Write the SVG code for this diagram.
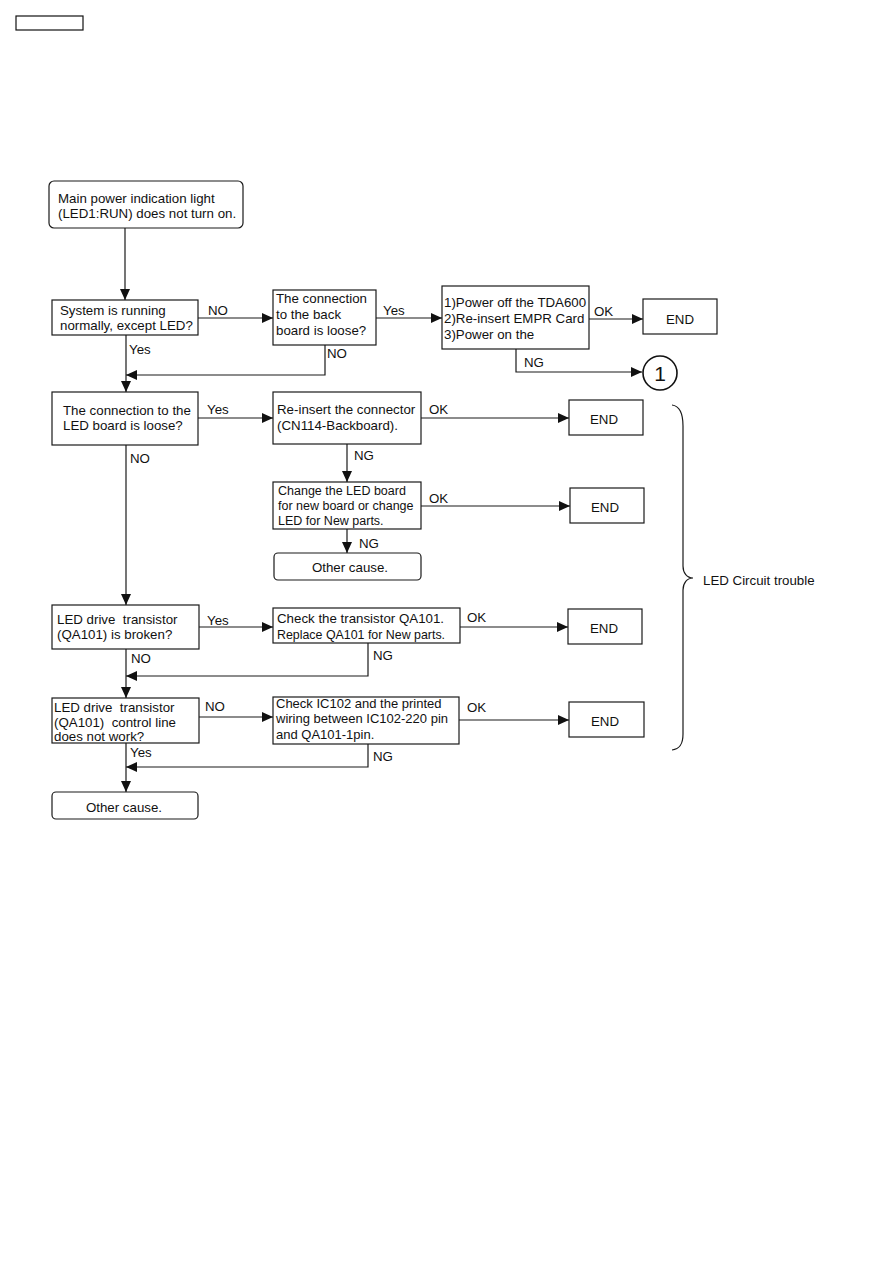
<svg xmlns="http://www.w3.org/2000/svg" width="893" height="1263" viewBox="0 0 893 1263">
<style>
rect.b{fill:#fff;stroke:#1a1a1a;stroke-width:1.2}
.c{fill:none;stroke:#1a1a1a;stroke-width:1.2}
text{font-family:"Liberation Sans",Arial,sans-serif;font-size:13.3px;fill:#111}
.m{text-anchor:middle}
.s{font-size:12.5px}
.pre{white-space:pre}
</style>
<defs>
<marker id="ah" markerUnits="userSpaceOnUse" markerWidth="12" markerHeight="12" refX="11" refY="5" orient="auto"><path d="M0,0 L11,5 L0,10 z" fill="#111"/></marker>
</defs>
<rect width="893" height="1263" fill="#fff"/>
<rect x="16" y="16" width="67" height="14" fill="none" stroke="#111" stroke-width="1.2"/>

<g id="connectors">
<path class="c" d="M125,228 V300" marker-end="url(#ah)"/>
<path class="c" d="M198,318 H273" marker-end="url(#ah)"/>
<path class="c" d="M376,318 H442" marker-end="url(#ah)"/>
<path class="c" d="M589,319 H643" marker-end="url(#ah)"/>
<path class="c" d="M516,349 V372 H642" marker-end="url(#ah)"/>
<path class="c" d="M325,345 V375 H126" marker-end="url(#ah)"/>
<path class="c" d="M126,335 V392" marker-end="url(#ah)"/>
<path class="c" d="M198,418 H273" marker-end="url(#ah)"/>
<path class="c" d="M421,418 H569" marker-end="url(#ah)"/>
<path class="c" d="M347,444 V482" marker-end="url(#ah)"/>
<path class="c" d="M421,506 H570" marker-end="url(#ah)"/>
<path class="c" d="M347,529 V553" marker-end="url(#ah)"/>
<path class="c" d="M126,445 V605" marker-end="url(#ah)"/>
<path class="c" d="M199,627 H273" marker-end="url(#ah)"/>
<path class="c" d="M460,627 H568" marker-end="url(#ah)"/>
<path class="c" d="M368,643 V676 H126" marker-end="url(#ah)"/>
<path class="c" d="M126,649 V698" marker-end="url(#ah)"/>
<path class="c" d="M199,717 H273" marker-end="url(#ah)"/>
<path class="c" d="M459,720 H569" marker-end="url(#ah)"/>
<path class="c" d="M368,744 V767 H126" marker-end="url(#ah)"/>
<path class="c" d="M126,743 V792" marker-end="url(#ah)"/>
<text x="208" y="315">NO</text>
<text x="383" y="315">Yes</text>
<text x="594" y="316">OK</text>
<text x="524" y="367">NG</text>
<text x="327" y="358">NO</text>
<text x="129" y="354">Yes</text>
<text x="207" y="414">Yes</text>
<text x="429" y="414">OK</text>
<text x="354" y="460">NG</text>
<text x="429" y="503">OK</text>
<text x="359" y="548">NG</text>
<text x="130" y="463">NO</text>
<text x="207" y="625">Yes</text>
<text x="467" y="622">OK</text>
<text x="373" y="660">NG</text>
<text x="131" y="663">NO</text>
<text x="205" y="711">NO</text>
<text x="467" y="712">OK</text>
<text x="373" y="761">NG</text>
<text x="130" y="757">Yes</text>
</g>

<g id="start">
<rect class="b" x="49" y="181" width="194" height="47" rx="5"/>
<text x="58" y="203">Main power indication light</text>
<text x="58" y="218">(LED1:RUN) does not turn on.</text>
</g>
<g id="system">
<rect class="b" x="52" y="300" width="146" height="35"/>
<text x="60" y="315">System is running</text>
<text x="60" y="330">normally, except LED?</text>
</g>
<g id="backboard">
<rect class="b" x="273" y="290" width="103" height="55"/>
<text x="276" y="303">The connection</text>
<text x="276" y="319">to the back</text>
<text x="276" y="335">board is loose?</text>
</g>
<g id="power">
<rect class="b" x="442" y="286" width="147" height="63"/>
<text x="444" y="307">1)Power off the TDA600</text>
<text x="444" y="323">2)Re-insert EMPR Card</text>
<text x="444" y="339">3)Power on the</text>
</g>
<g id="end1">
<rect class="b" x="643" y="299" width="74" height="35"/>
<text class="m" x="680" y="324">END</text>
</g>
<g id="circle1">
<circle cx="660" cy="373" r="17" fill="#fff" stroke="#111" stroke-width="1.6"/>
<text class="m" x="660" y="381" style="font-size:21px">1</text>
</g>
<g id="ledboard">
<rect class="b" x="52" y="392" width="146" height="53"/>
<text x="63" y="415">The connection to the</text>
<text x="63" y="430">LED board is loose?</text>
</g>
<g id="reinsert">
<rect class="b" x="273" y="392" width="148" height="52"/>
<text x="277" y="414">Re-insert the connector</text>
<text x="277" y="430">(CN114-Backboard).</text>
</g>
<g id="end2">
<rect class="b" x="569" y="400" width="74" height="35"/>
<text class="m" x="604" y="424">END</text>
</g>
<g id="change">
<rect class="b" x="273" y="482" width="148" height="47"/>
<text class="s" x="278" y="495">Change the LED board</text>
<text class="s" x="278" y="510">for new board or change</text>
<text class="s" x="278" y="525">LED for New parts.</text>
</g>
<g id="end3">
<rect class="b" x="570" y="488" width="74" height="35"/>
<text class="m" x="605" y="512">END</text>
</g>
<g id="other1">
<rect class="b" x="274" y="553" width="147" height="27" rx="4"/>
<text class="m" x="350" y="572">Other cause.</text>
</g>
<g id="ledtr">
<rect class="b" x="52" y="605" width="147" height="44"/>
<text class="pre" x="57" y="624" xml:space="preserve">LED drive  transistor</text>
<text x="57" y="639">(QA101) is broken?</text>
</g>
<g id="checktr">
<rect class="b" x="273" y="608" width="187" height="35"/>
<text x="277" y="623">Check the transistor QA101.</text>
<text x="277" y="639" style="font-size:12.4px">Replace QA101 for New parts.</text>
</g>
<g id="end4">
<rect class="b" x="568" y="609" width="74" height="35"/>
<text class="m" x="604" y="633">END</text>
</g>
<g id="ledctl">
<rect class="b" x="52" y="698" width="147" height="45"/>
<text class="pre" x="54" y="712" xml:space="preserve">LED drive  transistor</text>
<text class="pre" x="54" y="727" xml:space="preserve">(QA101)  control line</text>
<text x="54" y="741">does not work?</text>
</g>
<g id="checkic">
<rect class="b" x="273" y="697" width="186" height="47"/>
<text x="276" y="708" style="font-size:13px">Check IC102 and the printed</text>
<text x="276" y="723" style="font-size:13px">wiring between IC102-220 pin</text>
<text x="276" y="739" style="font-size:13px">and QA101-1pin.</text>
</g>
<g id="end5">
<rect class="b" x="569" y="702" width="75" height="35"/>
<text class="m" x="605" y="726">END</text>
</g>
<g id="other2">
<rect class="b" x="52" y="792" width="146" height="27" rx="4"/>
<text class="m" x="124" y="812">Other cause.</text>
</g>
<g id="brace">
<path class="c" d="M672,405 C680,406 683,413 683,426 V566 C683,573 687,578 693,578 C687,578 683,583 683,590 V734 C683,744 680,749 672,750"/>
<text x="703" y="585">LED Circuit trouble</text>
</g>
</svg>
